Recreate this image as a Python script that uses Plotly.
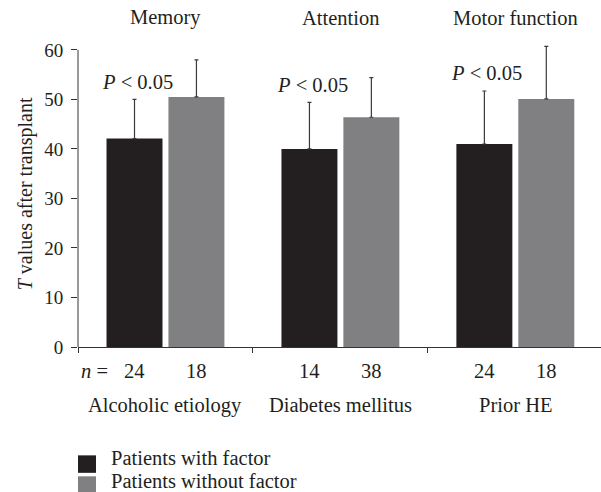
import plotly.graph_objects as go

# Neuropsychological domains and risk factors
domains = ["Memory", "Attention", "Motor function"]
factors = ["Alcoholic etiology", "Diabetes mellitus", "Prior HE"]

# Mean T values after transplant and their standard deviations
mean_with = [42.1, 40.0, 41.0]
sd_with = [7.9, 9.4, 10.7]
mean_without = [50.5, 46.4, 50.1]
sd_without = [7.5, 8.0, 10.6]

# Group sizes
n_with = [24, 14, 24]
n_without = [18, 38, 18]

p_labels = ["P < 0.05", "P < 0.05", "P < 0.05"]

series_names = ["Patients with factor", "Patients without factor"]
colors = ["#231f20", "#808083"]

FONT = "Liberation Serif"
TEXT = "#231f20"
FS = 20.5

W, H = 601, 492
Y_TOP_TICK = 60
Y_MAX = 61.8                # room above the top tick for tall error bars
ZERO_PX, TOP_PX = 347.5, 50.0
unit_px = (ZERO_PX - TOP_PX) / Y_TOP_TICK
ML, MR = 77.5, 0
MB = H - ZERO_PX
MT = ZERO_PX - Y_MAX * unit_px
plot_w = W - ML - MR
plot_h = H - MT - MB
cat_px = 175.1  # pixel width of one category
x_pos = list(range(len(factors)))

bargap = 0.292
bargroupgap = 0.096
slot = (1 - bargap) / 2
offsets = [-slot / 2, slot / 2]


def px_to_paper_x(px):
    return (px - ML) / plot_w


def px_to_paper_y(py):
    return (H - MB - py) / plot_h


fig = go.Figure()
for name, means, sds, color in [
    (series_names[0], mean_with, sd_with, colors[0]),
    (series_names[1], mean_without, sd_without, colors[1]),
]:
    fig.add_trace(go.Bar(
        x=x_pos, y=means, name=name, marker=dict(color=color, line=dict(width=0)),
        error_y=dict(type="data", array=sds, arrayminus=[0] * len(sds), symmetric=False,
                     color="#3a3a3a", thickness=1.2, width=2),
        showlegend=False,
    ))

ann = []


def label(text, x, y, xref="paper", yref="paper", size=FS, **kw):
    d = dict(x=x, y=y, xref=xref, yref=yref, text=text, showarrow=False,
             xanchor="center", yanchor="middle", font=dict(size=size))
    d.update(kw)
    ann.append(d)


# Domain headings
for i, d in enumerate(domains):
    label(d, i, px_to_paper_y(18), xref="x")
# Significance labels above the "with factor" bars
for i, p in enumerate(p_labels):
    top = mean_with[i] + sd_with[i]
    label("<i>P</i>" + p[1:], i + offsets[0] + 0.015, top + 3.6, xref="x", yref="y")
# Group sizes beneath each bar
for i in x_pos:
    for k, n in enumerate([n_with[i], n_without[i]]):
        label(str(n), i + offsets[k], px_to_paper_y(372), xref="x")
label("<i>n</i> =", px_to_paper_x(94.5), px_to_paper_y(372))
# Factor names
for i, f in enumerate(factors):
    label(f, i, px_to_paper_y(406), xref="x")
# Y-axis title
label("<i>T</i> values after transplant", px_to_paper_x(25), px_to_paper_y(194),
      size=20, textangle=-90)

# Legend drawn as swatches with labels
shapes = []
for k, (name, color) in enumerate(zip(series_names, colors)):
    top = 456 + 21 * k
    shapes.append(dict(type="rect", xref="paper", yref="paper",
                       x0=px_to_paper_x(77.5), x1=px_to_paper_x(95.5),
                       y0=px_to_paper_y(top + 17.5), y1=px_to_paper_y(top),
                       fillcolor=color, line=dict(width=0)))
    label(name, px_to_paper_x(109), px_to_paper_y(459 + 23 * k), xanchor="left")

# Y-axis line stops at the top tick
shapes.append(dict(type="line", xref="paper", yref="y", x0=0, x1=0, y0=0, y1=Y_TOP_TICK,
                   line=dict(color="#333", width=1)))

fig.update_layout(
    width=W, height=H,
    margin=dict(l=ML, r=MR, t=MT, b=MB, pad=0),
    paper_bgcolor="white", plot_bgcolor="white",
    font=dict(family=FONT, color=TEXT, size=FS),
    barmode="group", bargap=bargap, bargroupgap=bargroupgap,
    annotations=ann, shapes=shapes,
    xaxis=dict(range=[-0.5, -0.5 + plot_w / cat_px], tickvals=[-0.5, 0.5, 1.5, 2.5],
               showticklabels=False, ticks="outside", ticklen=5, tickcolor="#333",
               showline=True, linecolor="#333", linewidth=1, showgrid=False, zeroline=False),
    yaxis=dict(range=[0, Y_MAX], tickvals=[0, 10, 20, 30, 40, 50, 60], ticks="outside",
               ticklen=6, tickcolor="#333", showline=False,
               showgrid=False, zeroline=False, tickfont=dict(size=19), ticklabelstandoff=4),
)

fig.write_html("out.html")
